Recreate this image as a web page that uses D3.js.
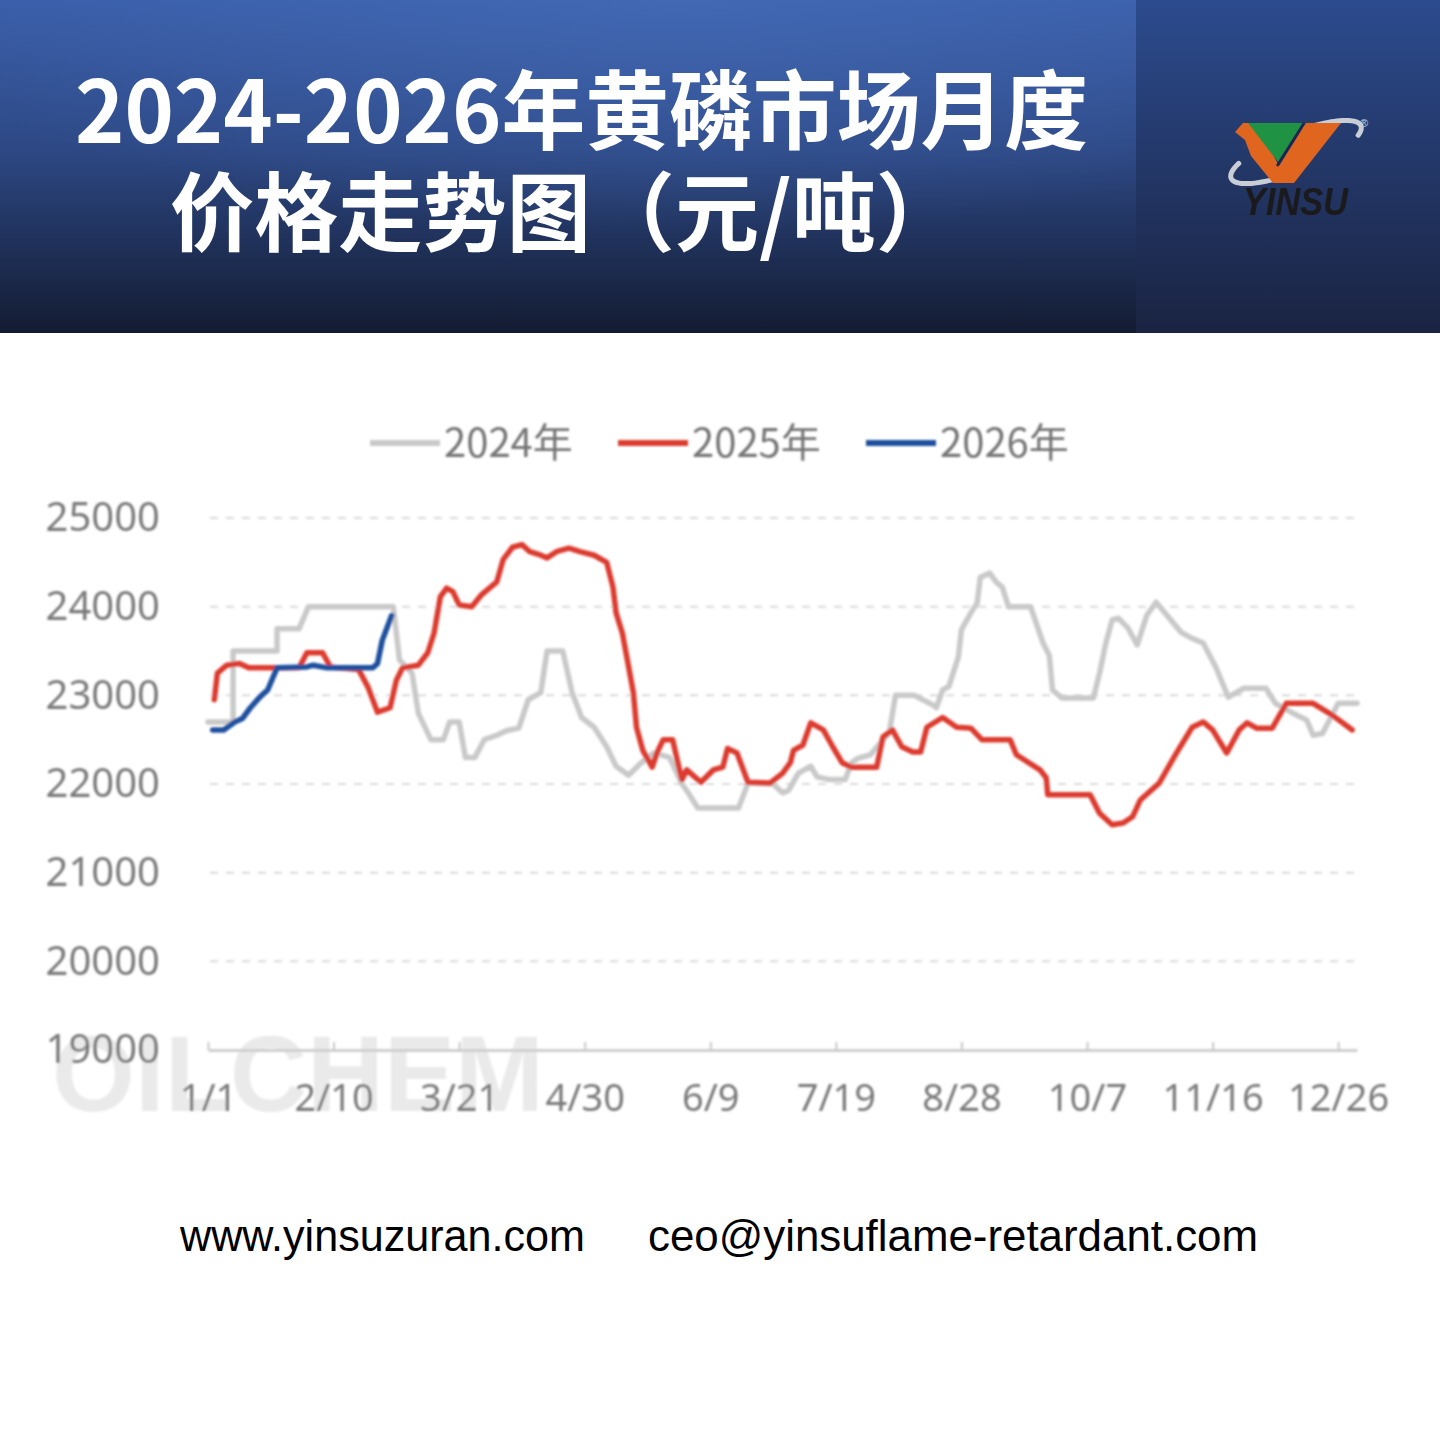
<!DOCTYPE html>
<html><head><meta charset="utf-8">
<script src="https://cdn.jsdelivr.net/npm/d3@7"></script>
<style>html,body{margin:0;padding:0;background:#fff;}</style>
</head><body>
<script>
// ---------------- data ----------------
const titleLines = ["2024-2026年黄磷市场月度", "价格走势图（元/吨）"];
const seriesNames = ["2024年", "2025年", "2026年"];
const seriesColors = ["#c9c9c9", "#dc3a2f", "#1f4f9e"];
const tickDays = [0, 40, 80, 120, 160, 200, 240, 280, 320, 360];
const tickLabels = ["1/1", "2/10", "3/21", "4/30", "6/9", "7/19", "8/28", "10/7", "11/16", "12/26"];
const yTicks = [19000, 20000, 21000, 22000, 23000, 24000, 25000];
const footerTexts = ["www.yinsuzuran.com", "ceo@yinsuflame-retardant.com"];

// [day of year, price]
const data2024 = [[0,22700],[8,22700],[8,23500],[22,23500],[22,23750],[29,23750],[32,24000],[59,24000],[61,23400],[65,23250],[67,22800],[71,22500],[75,22500],[77,22700],[80,22700],[82,22300],[85,22300],[88,22500],[92,22550],[95,22600],[99,22630],[102,22950],[106,23030],[108,23500],[113,23500],[116,23030],[119,22750],[123,22640],[127,22420],[130,22200],[134,22100],[138,22240],[142,22350],[147,22300],[151,22000],[153,21900],[156,21730],[169,21730],[172,22010],[180,22000],[183,21900],[185,21930],[188,22120],[192,22200],[194,22080],[198,22050],[203,22050],[205,22240],[207,22290],[211,22330],[217,22580],[219,23000],[225,23000],[231,22890],[232,22860],[234,23060],[236,23100],[239,23430],[240,23740],[243,23930],[245,24040],[246,24330],[249,24380],[251,24280],[253,24220],[255,24000],[262,24000],[266,23590],[268,23450],[269,23060],[272,22970],[282,22970],[284,23250],[286,23590],[288,23850],[290,23870],[293,23760],[296,23570],[299,23900],[302,24050],[310,23710],[313,23650],[317,23590],[321,23320],[325,22980],[330,23080],[337,23080],[340,22910],[345,22810],[350,22720],[352,22550],[355,22570],[360,22910],[366,22910]];
const data2025 = [[2,22950],[3,23250],[6,23340],[10,23360],[13,23310],[29,23310],[31.5,23480],[36.5,23480],[39,23320],[48,23290],[51,23090],[54,22810],[58,22860],[60,23170],[62,23310],[67,23340],[70,23480],[72,23700],[74,24110],[76,24210],[78,24170],[80,24020],[84,24000],[87,24130],[92,24280],[94,24530],[97,24670],[100,24700],[102.5,24620],[106,24580],[108,24550],[111,24620],[115,24660],[118.5,24620],[123,24580],[127,24500],[129,24220],[130,23930],[132,23700],[134,23320],[135.5,23030],[136.5,22640],[138.5,22380],[141.5,22190],[143,22350],[145,22500],[148,22500],[150,22190],[151,22050],[152.5,22160],[157,22020],[161,22160],[164,22190],[165.5,22400],[168.5,22350],[172,22020],[179,22010],[183,22120],[185.5,22240],[186.5,22380],[189.5,22440],[192,22690],[196,22610],[199,22420],[202,22240],[205,22190],[213,22190],[215,22530],[218,22610],[221,22420],[224.5,22360],[227,22360],[229,22640],[234,22750],[238.5,22640],[243,22630],[246.5,22500],[255.5,22500],[257.5,22330],[265,22160],[267,22070],[267.5,21880],[281,21880],[284,21670],[288,21540],[291.5,21560],[294.5,21630],[297,21820],[303,22010],[308.5,22350],[313.5,22640],[317,22700],[320,22610],[324.5,22350],[328.5,22610],[331,22690],[334,22630],[339,22630],[343.5,22910],[352,22910],[358,22780],[364.5,22610]];
const data2026 = [[1.5,22610],[5,22610],[8.5,22700],[11,22740],[13.5,22860],[16.5,22980],[19,23060],[22,23310],[31.5,23320],[33.5,23340],[38,23310],[52.5,23310],[54,23360],[55.5,23620],[58.5,23900]];
const allSeries = [data2024, data2025, data2026];

// ---------------- drawing ----------------
const svg = d3.select("body").append("svg").attr("width", 1440).attr("height", 1440)
  .style("display", "block");
const defs = svg.append("defs");

const gl = defs.append("linearGradient").attr("id", "gl").attr("x1", 0).attr("y1", 0).attr("x2", 0).attr("y2", 1);
gl.append("stop").attr("offset", "0%").attr("stop-color", "#3a5ea9");
gl.append("stop").attr("offset", "45%").attr("stop-color", "#2d4884");
gl.append("stop").attr("offset", "100%").attr("stop-color", "#131b31");
const rg = defs.append("radialGradient").attr("id", "rg").attr("cx", "0.6").attr("cy", "0").attr("r", "0.7");
rg.append("stop").attr("offset", "0%").attr("stop-color", "#4a72bf").attr("stop-opacity", 0.5);
rg.append("stop").attr("offset", "100%").attr("stop-color", "#4a72bf").attr("stop-opacity", 0);
const gr = defs.append("linearGradient").attr("id", "gr").attr("x1", 0).attr("y1", 0).attr("x2", 0).attr("y2", 1);
gr.append("stop").attr("offset", "0%").attr("stop-color", "#2c4b8e");
gr.append("stop").attr("offset", "100%").attr("stop-color", "#1a2341");
const blur = defs.append("filter").attr("id", "soft").attr("x", "-5%").attr("y", "-5%").attr("width", "110%").attr("height", "110%");
blur.append("feGaussianBlur").attr("stdDeviation", 1.1);

svg.append("rect").attr("width", 1440).attr("height", 1440).attr("fill", "#fff");

// header
svg.append("rect").attr("x", 0).attr("y", 0).attr("width", 1136).attr("height", 333).attr("fill", "url(#gl)");
svg.append("rect").attr("x", 0).attr("y", 0).attr("width", 1136).attr("height", 333).attr("fill", "url(#rg)");
svg.append("rect").attr("x", 1136).attr("y", 0).attr("width", 304).attr("height", 333).attr("fill", "url(#gr)");

const titleFont = "'Noto Sans CJK SC', 'Noto Sans', sans-serif";
svg.append("text").attr("x", 75).attr("y", 143).attr("font-family", titleFont)
  .attr("font-size", 86).attr("font-weight", 700).attr("fill", "#fff")
  .attr("textLength", 1013).attr("lengthAdjust", "spacingAndGlyphs").text(titleLines[0]);
svg.append("text").attr("x", 170).attr("y", 245).attr("font-family", titleFont)
  .attr("font-size", 86).attr("font-weight", 700).attr("fill", "#fff")
  .attr("textLength", 790).attr("lengthAdjust", "spacingAndGlyphs").text(titleLines[1]);

// logo
const logo = svg.append("g");
const ell = (cx, cy, rx, ry, rot, a0, a1) => {
  const pts = d3.range(a0, a1 + 0.5, 3).map(a => {
    const t = a * Math.PI / 180, r = rot * Math.PI / 180;
    const ex = rx * Math.cos(t), ey = ry * Math.sin(t);
    return [cx + ex * Math.cos(r) - ey * Math.sin(r), cy + ex * Math.sin(r) + ey * Math.cos(r)];
  });
  return d3.line()(pts);
};
logo.append("path").attr("d", ell(1296, 152, 70, 19, -22, 110, 215)).attr("fill", "none")
  .attr("stroke", "#c9cdd5").attr("stroke-width", 5).attr("stroke-linecap", "round");
logo.append("path").attr("d", ell(1296, 152, 70, 19, -22, -75, 25)).attr("fill", "none")
  .attr("stroke", "#c9cdd5").attr("stroke-width", 5).attr("stroke-linecap", "round");
logo.append("path").attr("d", "M1235,132 L1243,123 L1256,123 L1279,166 L1306,123 L1341,123 L1294,183 L1273,183 L1251,156 L1245,140 Z")
  .attr("fill", "#e0661f");
logo.append("path").attr("d", "M1248,123 L1304,123 L1278,162 Z").attr("fill", "#1f9343");
logo.append("path").attr("d", "M1304,123 L1277,166").attr("stroke", "#1c2552").attr("stroke-width", 2.5);
logo.append("text").attr("x", 1243).attr("y", 215).attr("font-family", "'Liberation Sans', Arial, sans-serif")
  .attr("font-size", 38).attr("font-style", "italic").attr("font-weight", 700).attr("fill", "#1a1a1c")
  .attr("textLength", 105).attr("lengthAdjust", "spacingAndGlyphs").text("YINSU");
logo.append("text").attr("x", 1360).attr("y", 127).attr("font-family", "'Liberation Sans', Arial, sans-serif")
  .attr("font-size", 11).attr("fill", "#cfd3da").text("®");

// chart
const x = d3.scaleLinear().domain([0, 366]).range([208, 1357]);
const y = d3.scaleLinear().domain([19000, 25000]).range([1050, 518]);
const chart = svg.append("g").attr("filter", "url(#soft)");
const labelFont = "'Noto Sans', 'DejaVu Sans', sans-serif";

// watermark
chart.append("text").attr("x", 52).attr("y", 1111).attr("font-family", "'Liberation Sans', Arial, sans-serif")
  .attr("font-size", 108).attr("font-weight", 700).attr("fill", "#eaeaea")
  .attr("textLength", 492).attr("lengthAdjust", "spacingAndGlyphs").text("OILCHEM");

// grid
chart.append("g").selectAll("line").data(yTicks.filter(v => v > 19000)).join("line")
  .attr("x1", 210).attr("x2", 1357).attr("y1", d => y(d)).attr("y2", d => y(d))
  .attr("stroke", "#dadada").attr("stroke-width", 2).attr("stroke-dasharray", "8,8");

// y axis
const yAxis = chart.append("g").attr("transform", "translate(208,0)")
  .call(d3.axisLeft(y).tickValues(yTicks).tickSize(0).tickPadding(48).tickFormat(d3.format("d")));
yAxis.select(".domain").remove();
yAxis.selectAll("text").attr("font-family", labelFont).attr("font-size", 40).attr("fill", "#7a7a7a");

// x axis
const xAxis = chart.append("g").attr("transform", "translate(0,1050)")
  .call(d3.axisBottom(x).tickValues(tickDays).tickFormat((d, i) => tickLabels[i]).tickSizeInner(-8).tickSizeOuter(0).tickPadding(34));
xAxis.select(".domain").attr("stroke", "#cfcfcf").attr("stroke-width", 3);
xAxis.selectAll(".tick line").attr("stroke", "#c8c8c8").attr("stroke-width", 2);
xAxis.selectAll("text").attr("font-family", labelFont).attr("font-size", 38).attr("fill", "#7a7a7a")
  .attr("dy", "0.71em");

// lines
const line = d3.line().x(d => x(d[0])).y(d => y(d[1]));
chart.append("g").selectAll("path").data(allSeries).join("path")
  .attr("d", d => line(d)).attr("fill", "none")
  .attr("stroke", (d, i) => seriesColors[i]).attr("stroke-width", 5.5)
  .attr("stroke-linejoin", "round").attr("stroke-linecap", "round");

// legend
const leg = chart.append("g").selectAll("g").data(seriesNames).join("g")
  .attr("transform", (d, i) => `translate(${370 + i * 248},443)`);
leg.append("line").attr("x1", 0).attr("x2", 70).attr("y1", 0).attr("y2", 0)
  .attr("stroke", (d, i) => seriesColors[i]).attr("stroke-width", 6);
leg.append("text").attr("x", 74).attr("y", 14).attr("font-family", "'Noto Sans CJK SC', sans-serif")
  .attr("font-size", 40).attr("fill", "#757575").text(d => d);

// footer
svg.append("text").attr("x", 180).attr("y", 1251).attr("font-family", "'Liberation Sans', Arial, sans-serif")
  .attr("font-size", 44).attr("fill", "#000").attr("textLength", 405).attr("lengthAdjust", "spacingAndGlyphs").text(footerTexts[0]);
svg.append("text").attr("x", 648).attr("y", 1251).attr("font-family", "'Liberation Sans', Arial, sans-serif")
  .attr("font-size", 44).attr("fill", "#000").attr("textLength", 610).attr("lengthAdjust", "spacingAndGlyphs").text(footerTexts[1]);
</script>
</body></html>
